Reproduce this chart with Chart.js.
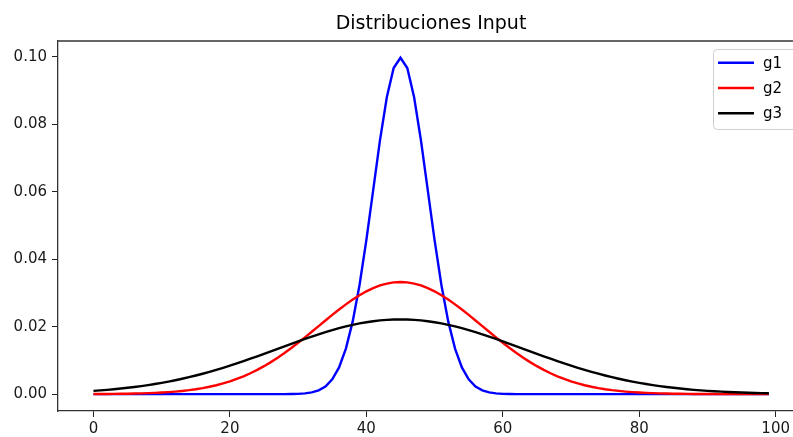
<!DOCTYPE html>
<html>
<head>
<meta charset="utf-8">
<script src="https://cdn.jsdelivr.net/npm/chart.js@4.4.0/dist/chart.umd.min.js"></script>
<style>
  html, body { margin: 0; padding: 0; background: #fff; }
  #chart { display: block; }
</style>
</head>
<body>
<canvas id="chart" width="793" height="437"></canvas>
<script>
// valores
const titulo = 'Distribuciones Input';
const etiquetas = ['g1', 'g2', 'g3'];
const colores = ['#0000ff', '#ff0000', '#000000'];

const xValues = [
  0, 1, 2, 3, 4, 5, 6, 7, 8, 9,
  10, 11, 12, 13, 14, 15, 16, 17, 18, 19,
  20, 21, 22, 23, 24, 25, 26, 27, 28, 29,
  30, 31, 32, 33, 34, 35, 36, 37, 38, 39,
  40, 41, 42, 43, 44, 45, 46, 47, 48, 49,
  50, 51, 52, 53, 54, 55, 56, 57, 58, 59,
  60, 61, 62, 63, 64, 65, 66, 67, 68, 69,
  70, 71, 72, 73, 74, 75, 76, 77, 78, 79,
  80, 81, 82, 83, 84, 85, 86, 87, 88, 89,
  90, 91, 92, 93, 94, 95, 96, 97, 98, 99
];

const g1 = [
  0, 0, 0, 0, 0, 0, 0, 0, 0, 0,
  0, 0, 0, 0, 0, 0, 0, 0, 0, 0,
  0, 0, 0, 0, 0, 0, 0, 0, 0.000012, 0.000033,
  0.000088, 0.000218, 0.000507, 0.001108, 0.002273, 0.004382, 0.007935, 0.013498, 0.021570, 0.032379,
  0.045662, 0.060493, 0.075285, 0.088017, 0.096667, 0.099736, 0.096667, 0.088017, 0.075285, 0.060493,
  0.045662, 0.032379, 0.021570, 0.013498, 0.007935, 0.004382, 0.002273, 0.001108, 0.000507, 0.000218,
  0.000088, 0.000033, 0.000012, 0, 0, 0, 0, 0, 0, 0,
  0, 0, 0, 0, 0, 0, 0, 0, 0, 0,
  0, 0, 0, 0, 0, 0, 0, 0, 0, 0,
  0, 0, 0, 0, 0, 0, 0, 0, 0, 0
];

const g2 = [
  0.000029, 0.000040, 0.000054, 0.000073, 0.000097, 0.000129, 0.000169, 0.000221, 0.000287, 0.000369,
  0.000473, 0.000601, 0.000758, 0.000950, 0.001182, 0.001461, 0.001793, 0.002185, 0.002645, 0.003179,
  0.003795, 0.004499, 0.005297, 0.006193, 0.007190, 0.008290, 0.009492, 0.010793, 0.012188, 0.013667,
  0.015221, 0.016833, 0.018488, 0.020164, 0.021841, 0.023493, 0.025095, 0.026621, 0.028044, 0.029339,
  0.030481, 0.031448, 0.032222, 0.032787, 0.033130, 0.033245, 0.033130, 0.032787, 0.032222, 0.031448,
  0.030481, 0.029339, 0.028044, 0.026621, 0.025095, 0.023493, 0.021841, 0.020164, 0.018488, 0.016833,
  0.015221, 0.013667, 0.012188, 0.010793, 0.009492, 0.008290, 0.007190, 0.006193, 0.005297, 0.004499,
  0.003795, 0.003179, 0.002645, 0.002185, 0.001793, 0.001461, 0.001182, 0.000950, 0.000758, 0.000601,
  0.000473, 0.000369, 0.000287, 0.000221, 0.000169, 0.000129, 0.000097, 0.000073, 0.000054, 0.000040,
  0.000029, 0.000021, 0.000016, 0.000011, 0.000008, 0.000006, 0.000004, 0.000003, 0.000002, 0.000001
];

const g3 = [
  0.000974, 0.001117, 0.001278, 0.001457, 0.001656, 0.001876, 0.002120, 0.002387, 0.002680, 0.003000,
  0.003347, 0.003723, 0.004128, 0.004564, 0.005030, 0.005527, 0.006054, 0.006610, 0.007196, 0.007809,
  0.008448, 0.009112, 0.009797, 0.010502, 0.011222, 0.011955, 0.012697, 0.013443, 0.014189, 0.014930,
  0.015662, 0.016379, 0.017076, 0.017748, 0.018389, 0.018994, 0.019560, 0.020080, 0.020550, 0.020966,
  0.021325, 0.021623, 0.021858, 0.022028, 0.022130, 0.022164, 0.022130, 0.022028, 0.021858, 0.021623,
  0.021325, 0.020966, 0.020550, 0.020080, 0.019560, 0.018994, 0.018389, 0.017748, 0.017076, 0.016379,
  0.015662, 0.014930, 0.014189, 0.013443, 0.012697, 0.011955, 0.011222, 0.010502, 0.009797, 0.009112,
  0.008448, 0.007809, 0.007196, 0.006610, 0.006054, 0.005527, 0.005030, 0.004564, 0.004128, 0.003723,
  0.003347, 0.003000, 0.002680, 0.002387, 0.002120, 0.001876, 0.001656, 0.001457, 0.001278, 0.001117,
  0.000974, 0.000846, 0.000733, 0.000633, 0.000545, 0.000468, 0.000400, 0.000341, 0.000290, 0.000246
];

const xTicks = [0, 20, 40, 60, 80, 100];
const yTicks = [0, 0.02, 0.04, 0.06, 0.08, 0.10];

const fuente = '"DejaVu Sans", sans-serif';
const series = [g1, g2, g3];

// marco superior, título y leyenda estilo matplotlib
const extras = {
  id: 'extras',
  afterDraw(chart) {
    const ctx = chart.ctx;
    const a = chart.chartArea;
    ctx.save();
    ctx.strokeStyle = '#333';
    ctx.lineWidth = 1.3;
    ctx.beginPath();
    ctx.moveTo(a.left, a.top);
    ctx.lineTo(a.right, a.top);
    ctx.stroke();

    ctx.fillStyle = '#000';
    ctx.font = '19px ' + fuente;
    ctx.textAlign = 'center';
    ctx.textBaseline = 'alphabetic';
    ctx.fillText(titulo, 431, 29);

    // leyenda
    const bx = 713.5, by = 49.5, bw = 100, bh = 80, r = 4;
    ctx.fillStyle = 'rgba(255,255,255,0.8)';
    ctx.strokeStyle = '#d0d0d0';
    ctx.lineWidth = 1;
    ctx.beginPath();
    ctx.roundRect(bx, by, bw, bh, r);
    ctx.fill();
    ctx.stroke();
    ctx.font = '15px ' + fuente;
    ctx.textAlign = 'left';
    ctx.textBaseline = 'middle';
    chart.data.datasets.forEach((ds, i) => {
      const y = 62.7 + i * 25.3;
      ctx.strokeStyle = ds.borderColor;
      ctx.lineWidth = 2.4;
      ctx.beginPath();
      ctx.moveTo(718, y);
      ctx.lineTo(754, y);
      ctx.stroke();
      ctx.fillStyle = '#000';
      ctx.fillText(ds.label, 763, y + 1);
    });
    ctx.restore();
  }
};

new Chart(document.getElementById('chart'), {
  type: 'line',
  data: {
    datasets: series.map((s, i) => ({
      label: etiquetas[i],
      data: xValues.map((x, j) => ({ x: x, y: s[j] })),
      borderColor: colores[i],
      backgroundColor: colores[i],
      borderWidth: 2.4,
      pointRadius: 0,
      tension: 0,
      fill: false,
      order: series.length - i   // g3 queda encima, como en el original
    }))
  },
  options: {
    responsive: false,
    animation: false,
    layout: { padding: { top: 41, left: 0, right: 0, bottom: 0 } },
    plugins: {
      legend: { display: false },
      title: { display: false },
      tooltip: { enabled: false }
    },
    scales: {
      x: {
        type: 'linear',
        min: -5.2,
        max: 102.53,
        afterBuildTicks: (scale) => { scale.ticks = xTicks.map(v => ({ value: v })); },
        afterFit: (scale) => { scale.height = 26; },
        grid: { drawOnChartArea: false, drawTicks: true, tickLength: 6, color: '#222', lineWidth: 1 },
        border: { display: true, color: '#333', width: 1.3 },
        ticks: {
          font: { family: fuente, size: 15 },
          color: '#1a1a1a',
          padding: 3,
          maxRotation: 0,
          callback: (v) => String(v)
        }
      },
      y: {
        type: 'linear',
        min: -0.005,
        max: 0.1047,
        afterBuildTicks: (scale) => { scale.ticks = yTicks.map(v => ({ value: v })); },
        afterFit: (scale) => { scale.width = 58; },
        grid: { drawOnChartArea: false, drawTicks: true, tickLength: 6, color: '#222', lineWidth: 1 },
        border: { display: true, color: '#333', width: 1.3 },
        ticks: {
          font: { family: fuente, size: 15 },
          color: '#1a1a1a',
          padding: 5,
          callback: (v) => v.toFixed(2)
        }
      }
    }
  },
  plugins: [extras]
});
</script>
</body>
</html>
